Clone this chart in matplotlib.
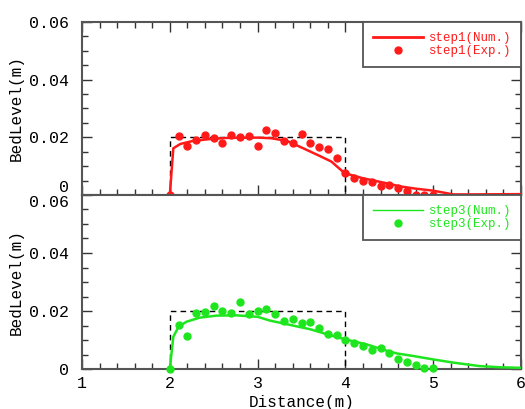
import matplotlib
matplotlib.use('Agg')
import matplotlib.pyplot as plt
from matplotlib.lines import Line2D
from matplotlib.ticker import MultipleLocator, FixedLocator, FixedFormatter

# ---------------- data ----------------
exp_x = [2.0, 2.1, 2.2, 2.3, 2.4, 2.5, 2.6, 2.7, 2.8, 2.9, 3.0, 3.1, 3.2, 3.3, 3.4, 3.5,
         3.6, 3.7, 3.8, 3.9, 4.0, 4.1, 4.2, 4.3, 4.4, 4.5, 4.6, 4.7, 4.8, 4.9, 5.0]
step1_exp = [0.0, 0.0206, 0.0170, 0.0192, 0.0208, 0.0199, 0.0180, 0.0208, 0.0202, 0.0205,
             0.0169, 0.0225, 0.0215, 0.0188, 0.0181, 0.0213, 0.0181, 0.0165, 0.0158, 0.0128,
             0.0078, 0.0059, 0.0048, 0.0044, 0.0032, 0.0035, 0.0023, 0.0013, 0.0001, 0.0001,
             0.0001]
step3_exp = [0.0, 0.0152, 0.0115, 0.0192, 0.0197, 0.0217, 0.0201, 0.0193, 0.0230, 0.0190,
             0.0201, 0.0206, 0.0188, 0.0165, 0.0174, 0.0160, 0.0161, 0.0141, 0.0121, 0.0117,
             0.0099, 0.0088, 0.0078, 0.0066, 0.0072, 0.0056, 0.0036, 0.0025, 0.0014, 0.0002,
             0.0002]

step1_num_x = [2.0, 2.04, 2.12, 2.27, 2.46, 2.65, 3.0, 3.15, 3.33, 3.52, 3.71, 3.84, 3.96,
               4.0, 4.2, 4.45, 4.62, 4.8, 5.0, 5.23, 5.4, 6.0]
step1_num_y = [0.0, 0.0162, 0.0177, 0.0188, 0.0194, 0.0198, 0.0199, 0.0197, 0.0188, 0.0162,
               0.0135, 0.0116, 0.0084, 0.0075, 0.0058, 0.0042, 0.0030, 0.0022, 0.0015, 0.0002,
               0.0002, 0.0003]

step3_num_x = [2.0, 2.04, 2.10, 2.19, 2.34, 2.53, 2.76, 3.0, 3.14, 3.37, 3.60, 3.82, 4.0,
               4.24, 4.45, 4.58, 4.77, 5.0, 5.23, 5.53, 5.76, 6.0]
step3_num_y = [0.0, 0.0111, 0.0146, 0.0163, 0.0177, 0.0184, 0.0185, 0.0180, 0.0167, 0.0152,
               0.0137, 0.0117, 0.0102, 0.0085, 0.0065, 0.0054, 0.0045, 0.0033, 0.0022, 0.0010,
               0.0006, 0.0004]

initial_x = [2, 2, 4, 4]
initial_y = [0, 0.02, 0.02, 0]

y_ticks = [0, 0.02, 0.04, 0.06]
y_ticklabels = ['0', '0.02', '0.04', '0.06']
x_ticks = [1, 2, 3, 4, 5, 6]
x_ticklabels = ['1', '2', '3', '4', '5', '6']

labels_top = ['step1(Num.)', 'step1(Exp.)']
labels_bot = ['step3(Num.)', 'step3(Exp.)']

RED = '#ff1a1a'
GREEN = '#1ee61e'
SPINE = '#555555'

plt.rcParams['font.family'] = ['Liberation Mono', 'DejaVu Sans Mono']

fig = plt.figure(figsize=(5.25, 4.09), dpi=100)
L, R = 82 / 525, 521 / 525
ax1 = fig.add_axes([L, 1 - 195 / 409, R - L, (195 - 22) / 409])
ax2 = fig.add_axes([L, 1 - 369 / 409, R - L, (369 - 195) / 409])


def style(ax, top_ticks, show_xlabels):
    ax.set_xlim(1, 6)
    ax.set_ylim(0, 0.06)
    for s in ax.spines.values():
        s.set_color(SPINE)
        s.set_linewidth(1.5)
    ax.xaxis.set_major_locator(FixedLocator(x_ticks))
    ax.xaxis.set_minor_locator(MultipleLocator(0.2))
    ax.yaxis.set_major_locator(FixedLocator(y_ticks))
    ax.yaxis.set_minor_locator(MultipleLocator(0.005))
    ax.yaxis.set_major_formatter(FixedFormatter(y_ticklabels))
    ax.xaxis.set_major_formatter(FixedFormatter(x_ticklabels))
    ax.tick_params(which='both', direction='in', top=top_ticks, right=True,
                   color='#333333', width=1.0, labelsize=12)
    ax.tick_params(which='major', length=7)
    ax.tick_params(which='minor', length=4)
    ax.tick_params(axis='y', pad=9)
    ax.tick_params(axis='x', pad=5, labelbottom=show_xlabels)
    ax.set_ylabel('BedLevel(m)', fontsize=11.5, labelpad=4)


style(ax1, True, False)
style(ax2, False, True)

ax1.plot(initial_x, initial_y, color='black', lw=1.0, ls=(0, (4, 3)))
ax2.plot(initial_x, initial_y, color='black', lw=1.0, ls=(0, (4, 3)))

ax1.plot(step1_num_x, step1_num_y, color=RED, lw=1.8, zorder=3)
ax1.plot(exp_x, step1_exp, 'o', color=RED, ms=5, clip_on=False, zorder=4)
ax2.plot(step3_num_x, step3_num_y, color=GREEN, lw=1.8, zorder=3)
ax2.plot(exp_x, step3_exp, 'o', color=GREEN, ms=5, clip_on=False, zorder=4)

ax2.set_xlabel('Distance(m)', fontsize=11.5, labelpad=3)

# edge tick labels stay inside their panel
ax1.get_yticklabels()[0].set_verticalalignment('bottom')
ax2.get_yticklabels()[-1].set_verticalalignment('top')


def add_legend(ax, color, lw, labels):
    h = [Line2D([], [], color=color, lw=lw),
         Line2D([], [], ls='none', marker='o', color=color, ms=5)]
    leg = ax.legend(h, labels, loc='upper right', bbox_to_anchor=(1, 1),
                    borderaxespad=0, fancybox=False, framealpha=1,
                    edgecolor=SPINE, fontsize=9, labelspacing=0.1,
                    handlelength=4.0, handletextpad=0.45, borderpad=0.8,
                    numpoints=1, labelcolor=color)
    leg.get_frame().set_linewidth(1.3)
    leg.set_zorder(10)


add_legend(ax1, RED, 2.0, labels_top)
add_legend(ax2, GREEN, 1.0, labels_bot)

fig.savefig('out.png', dpi=100)
